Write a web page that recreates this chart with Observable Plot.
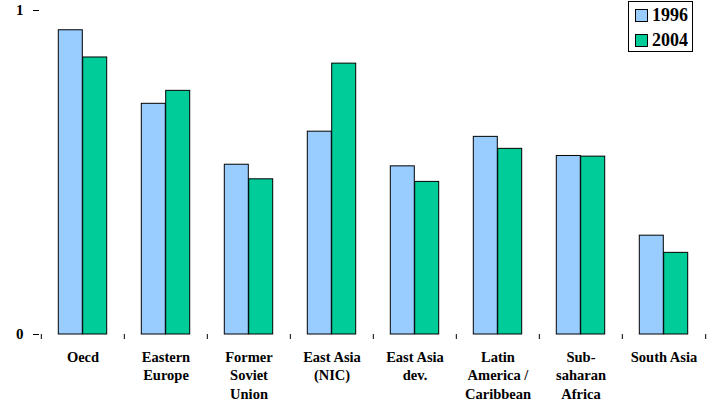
<!DOCTYPE html>
<html>
<head>
<meta charset="utf-8">
<script src="https://cdn.jsdelivr.net/npm/d3@7"></script>
<script src="https://cdn.jsdelivr.net/npm/@observablehq/plot@0.6"></script>
<style>
  body { margin: 0; background: #fff; }
  #wrap { position: relative; width: 714px; height: 402px; font-family: "Liberation Serif", "Times New Roman", Times, "DejaVu Serif", serif; }
  #wrap svg, #wrap svg text { font-family: "Liberation Serif", "Times New Roman", Times, "DejaVu Serif", serif !important; }
  #legend { position: absolute; left: 628px; top: 1px; width: 63px; height: 49px; border: 1px solid #000; background: #fff; }
  .row { position: absolute; left: 6px; display: flex; align-items: center; font-weight: bold; font-size: 18px; }
  .sw { width: 11px; height: 11px; border: 1px solid #000; margin-right: 4px; }
</style>
</head>
<body>
<div id="wrap"></div>
<script>
const regions = ["Oecd", "Eastern\nEurope", "Former\nSoviet\nUnion", "East Asia\n(NIC)", "East Asia\ndev.", "Latin\nAmerica /\nCaribbean", "Sub-\nsaharan\nAfrica", "South Asia"];
const years = ["1996", "2004"];
const values1996 = [0.939, 0.712, 0.524, 0.626, 0.519, 0.610, 0.551, 0.305];
const values2004 = [0.855, 0.752, 0.479, 0.836, 0.471, 0.573, 0.549, 0.252];
const yTicks = [0, 1];
const colors = ["#99CCFF", "#00CC99"];

const W = 714, H = 402, mL = 39, mR = 8, mT = 10, mB = 68;
const step = (W - mL - mR) / regions.length;

const d1996 = regions.map((r, i) => ({region: r, value: values1996[i]}));
const d2004 = regions.map((r, i) => ({region: r, value: values2004[i]}));

const chart = Plot.plot({
  width: W, height: H,
  marginLeft: mL, marginRight: mR, marginTop: mT, marginBottom: mB,
  style: {fontWeight: "bold", fontSize: "14.5px", color: "#000", background: "#fff"},
  x: {domain: regions, padding: 0, axis: null, label: null},
  y: {domain: [0, 1], axis: null, label: null},
  marks: [
    Plot.barY(d1996, {x: "region", y: "value", fill: colors[0], stroke: "#000", strokeWidth: 1, insetLeft: 17.3, insetRight: 41.7}),
    Plot.barY(d2004, {x: "region", y: "value", fill: colors[1], stroke: "#000", strokeWidth: 1, insetLeft: 41.7, insetRight: 17.3}),
    Plot.axisY({ticks: yTicks, tickFormat: d3.format("d"), label: null, tickSize: 6, tickPadding: 10, fontSize: 15, line: true, stroke: "#000", strokeOpacity: 1}),
    Plot.axisX({ticks: regions, label: null, tickSize: 0, tickPadding: 15, lineHeight: 1.25, line: true, stroke: "#000"}),
    Plot.axisX({ticks: regions, label: null, tickSize: 5, text: null, dx: -step / 2, stroke: "#000", strokeOpacity: 1}),
    Plot.axisX({ticks: regions.slice(-1), label: null, tickSize: 5, text: null, dx: step / 2, stroke: "#000", strokeOpacity: 1})
  ]
});
const wrap = document.getElementById("wrap");
wrap.appendChild(chart);

const legend = document.createElement("div");
legend.id = "legend";
years.forEach((y, i) => {
  const row = document.createElement("div");
  row.className = "row";
  row.style.top = (3 + i * 25) + "px";
  const sw = document.createElement("div");
  sw.className = "sw";
  sw.style.background = colors[i];
  row.appendChild(sw);
  row.appendChild(document.createTextNode(y));
  legend.appendChild(row);
});
wrap.appendChild(legend);
</script>
</body>
</html>
